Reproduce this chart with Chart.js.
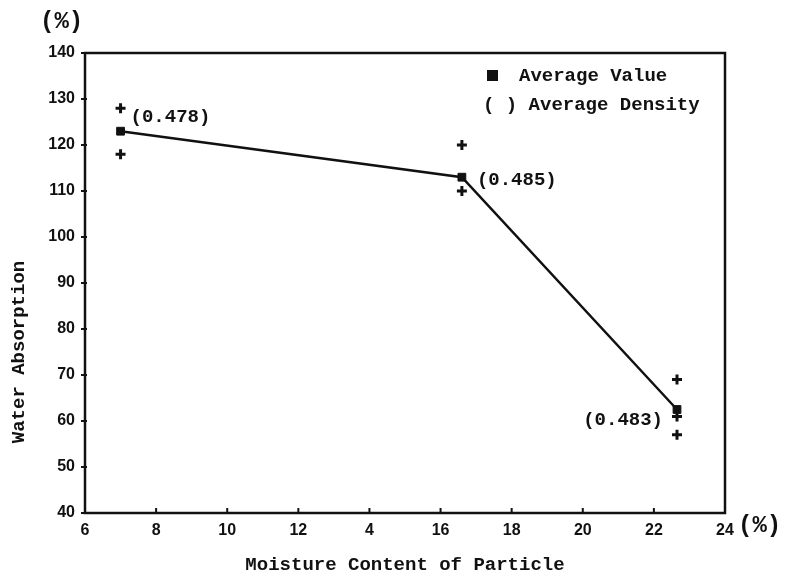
<!DOCTYPE html>
<html>
<head>
<meta charset="utf-8">
<script src="https://cdn.jsdelivr.net/npm/chart.js@4.4.1/dist/chart.umd.min.js"></script>
<style>
  html, body { margin: 0; padding: 0; background: #fff; }
  #wrap { width: 788px; height: 575px; }
</style>
</head>
<body>
<div id="wrap"><canvas id="chart" width="788" height="575"></canvas></div>
<script>
// moisture content of particle (%) and average water absorption (%)
const moisture = [7.0, 16.6, 22.65];
const avgAbsorption = [123, 113, 62.5];
const densityLabels = ['(0.478)', '(0.485)', '(0.483)'];

// individual specimen values (crosses)
const sampleMoisture = [7.0, 7.0, 16.6, 16.6, 22.65, 22.65, 22.65];
const sampleAbsorption = [128, 118, 120, 110, 69, 61, 57];

// tick labels as printed (the 14 is printed as "4")
const xTickValues = [6, 8, 10, 12, 14, 16, 18, 20, 22, 24];
const xTickLabels = ['6', '8', '10', '12', '4', '16', '18', '20', '22', '24'];
const yTickLabels = ['40', '50', '60', '70', '80', '90', '100', '110', '120', '130', '140'];

const legendItems = ['Average Value', '( ) Average Density'];
const xTitle = 'Moisture Content of Particle';
const yTitle = 'Water Absorption';

const MONO = '"Liberation Mono", "DejaVu Sans Mono", monospace';
const SANS = '"Liberation Sans", Arial, sans-serif';

// label offsets relative to the point (px)
const labelOffsets = [
    { dx: 10, dy: -14, align: 'left' },
    { dx: 15, dy: 3, align: 'left' },
    { dx: -14, dy: 11, align: 'right' }
];

const decor = {
    id: 'decor',
    afterDatasetsDraw(chart) {
        const ctx = chart.ctx;
        const a = chart.chartArea;
        const xs = chart.scales.x;
        const ys = chart.scales.y;
        ctx.save();
        ctx.fillStyle = '#111';
        ctx.strokeStyle = '#111';

        // frame
        ctx.lineWidth = 2.5;
        ctx.strokeRect(a.left, a.top, a.right - a.left, a.bottom - a.top);

        // inward x ticks, outward y ticks
        ctx.lineWidth = 2;
        xTickValues.forEach(v => {
            const px = xs.getPixelForValue(v);
            ctx.beginPath();
            ctx.moveTo(px, a.bottom);
            ctx.lineTo(px, a.bottom - 5);
            ctx.stroke();
        });
        yTickLabels.forEach(t => {
            const py = ys.getPixelForValue(Number(t));
            ctx.beginPath();
            ctx.moveTo(a.left - 4, py);
            ctx.lineTo(a.left + 2, py);
            ctx.stroke();
        });

        // density labels
        ctx.font = 'bold 19px ' + MONO;
        ctx.textBaseline = 'middle';
        moisture.forEach((m, i) => {
            const o = labelOffsets[i];
            ctx.textAlign = o.align;
            ctx.fillText(densityLabels[i],
                xs.getPixelForValue(m) + o.dx,
                ys.getPixelForValue(avgAbsorption[i]) + o.dy);
        });

        // legend
        ctx.textAlign = 'left';
        ctx.fillRect(487, 70, 11, 11);
        ctx.fillText(legendItems[0], 519, 76);
        ctx.fillText(legendItems[1], 483, 105);

        // units
        ctx.font = 'bold 24px ' + MONO;
        ctx.fillText('(%)', 40, 22);
        ctx.fillText('(%)', 738, 526);

        // axis titles
        ctx.font = 'bold 19px ' + MONO;
        ctx.textAlign = 'center';
        ctx.fillText(xTitle, (a.left + a.right) / 2, 565);
        ctx.translate(19, 352);
        ctx.rotate(-Math.PI / 2);
        ctx.fillText(yTitle, 0, 0);
        ctx.restore();
    }
};

new Chart(document.getElementById('chart'), {
    type: 'scatter',
    data: {
        datasets: [
            {
                type: 'line',
                label: 'Average Value',
                data: moisture.map((m, i) => ({ x: m, y: avgAbsorption[i] })),
                borderColor: '#111',
                backgroundColor: '#111',
                borderWidth: 2.5,
                pointStyle: 'rect',
                pointRadius: 5.5,
                pointBorderWidth: 1,
                tension: 0
            },
            {
                label: 'Specimens',
                data: sampleMoisture.map((m, i) => ({ x: m, y: sampleAbsorption[i] })),
                borderColor: '#111',
                backgroundColor: '#111',
                pointStyle: 'cross',
                pointRadius: 5,
                pointBorderWidth: 3
            }
        ]
    },
    options: {
        responsive: false,
        animation: false,
        layout: { padding: { top: 53, right: 63, left: 0, bottom: 0 } },
        plugins: {
            legend: { display: false },
            tooltip: { enabled: false }
        },
        scales: {
            x: {
                type: 'linear',
                min: 6,
                max: 24,
                afterFit: s => { s.height = 62; },
                afterBuildTicks: s => { s.ticks = xTickValues.map(v => ({ value: v })); },
                border: { display: false },
                grid: { display: false },
                ticks: {
                    padding: 0,
                    color: '#111',
                    font: { family: SANS, size: 16, weight: 'bold' },
                    callback: v => xTickLabels[xTickValues.indexOf(v)]
                }
            },
            y: {
                min: 40,
                max: 140,
                afterFit: s => { s.width = 85; },
                afterBuildTicks: s => { s.ticks = yTickLabels.map(t => ({ value: Number(t) })); },
                border: { display: false },
                grid: { display: false },
                ticks: {
                    padding: 2,
                    color: '#111',
                    font: { family: SANS, size: 16, weight: 'bold' },
                    callback: v => yTickLabels[yTickLabels.indexOf(String(v))]
                }
            }
        }
    },
    plugins: [decor]
});
</script>
</body>
</html>
